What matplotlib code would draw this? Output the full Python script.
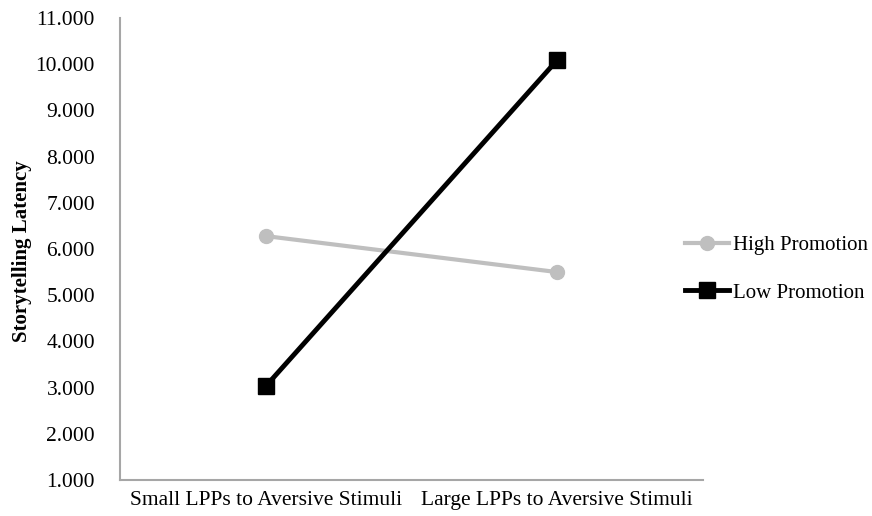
import matplotlib
matplotlib.use("Agg")
from matplotlib import pyplot as plt

categories = ["Small LPPs to Aversive Stimuli", "Large LPPs to Aversive Stimuli"]
high_promotion = [6.28, 5.50]
low_promotion = [3.03, 10.09]
yticks = [1, 2, 3, 4, 5, 6, 7, 8, 9, 10, 11]

plt.rcParams['font.family'] = ['Liberation Serif', 'DejaVu Serif']

fig = plt.figure(figsize=(8.72, 5.16), dpi=100)
ax = fig.add_axes([120 / 872, 1 - 480 / 516, (703 - 120) / 872, (480 - 18) / 516])

x = [0, 1]
ax.plot(x, high_promotion, color='#bfbfbf', linewidth=3, marker='o', markersize=10,
        label='High Promotion')
ax.plot(x, low_promotion, color='black', linewidth=3.5, marker='s', markersize=11,
        label='Low Promotion')

ax.set_xlim(-0.5, 1.5)
ax.set_ylim(1, 11)
ax.set_yticks(yticks)
ax.set_yticklabels([f"{v:.3f}" for v in yticks], fontsize=15.5)
ax.set_xticks(x)
ax.set_xticklabels(categories, fontsize=15.5)
ax.tick_params(axis='y', length=0, pad=18)
ax.tick_params(axis='x', length=0, pad=8)

for side in ['top', 'right']:
    ax.spines[side].set_visible(False)
for side in ['left', 'bottom']:
    ax.spines[side].set_color('#a6a6a6')
    ax.spines[side].set_linewidth(1.5)

ax.set_ylabel('Storytelling Latency', fontsize=15, fontweight='bold')
ax.yaxis.set_label_coords(-0.151, 0.496)

ax.legend(loc='center left', bbox_to_anchor=(0.969, 0.457), frameon=False, fontsize=15,
          handlelength=2.1, labelspacing=1.35, handletextpad=0.2,
          borderpad=0, borderaxespad=0)

fig.savefig('out.png', dpi=100)
plt.close(fig)
